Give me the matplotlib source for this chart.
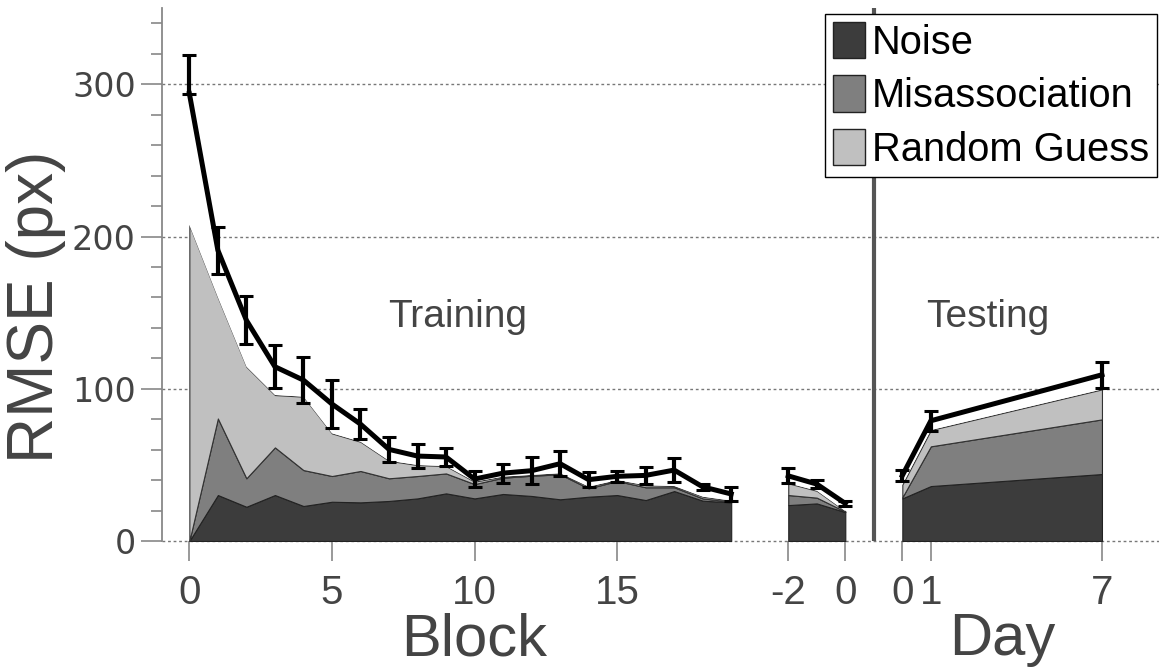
import numpy as np
import matplotlib
matplotlib.use('Agg')
import matplotlib.pyplot as plt
import matplotlib.transforms as mtransforms
from matplotlib.patches import Patch

plt.rcParams['font.family'] = ['Liberation Sans', 'DejaVu Sans']

# training blocks 0..19
block_x = np.arange(20)
block_total = [294, 191, 145, 114.5, 105.7, 90, 76.8, 60.2, 55.8, 55.2,
               40.7, 44.6, 46.2, 50.8, 40.3, 42.5, 43.1, 46.6, 35.6, 30.9]
block_err_lo = [0.5, 15.3, 15.8, 14, 15, 16, 10, 8, 8, 6,
                5, 6.3, 8.7, 8.4, 5, 3.6, 5.7, 8, 2, 4.9]
block_err_hi = [25, 15.3, 15.8, 14, 15, 16, 10, 8, 8, 6,
                5, 6.3, 8.7, 8.4, 5, 3.6, 5.7, 8, 2, 4.9]
block_noise = [0, 30.2, 22.5, 30.2, 23, 25.8, 25.4, 26.3, 28, 31.3,
               28, 30.9, 29.6, 27.4, 29.1, 30.2, 26.9, 32.8, 26.5, 25.4]
block_misassoc = [0, 80.5, 41.2, 61.5, 46.6, 42.7, 46, 41.2, 42.7, 44.4,
                  37.4, 41.6, 42.9, 43.8, 34.6, 39.4, 35.3, 35.3, 28, 25.8]
block_guess = [207.5, 160, 114.5, 95.9, 94.8, 70.7, 65.2, 52.7, 49.9, 49.2,
               39, 42.3, 43.4, 44.5, 35.7, 40, 36.6, 36.1, 29.1, 26.5]

# pre-test days -2..0 (axis positions 21..23)
pre_x = [21, 22, 23]
pre_total = [42.8, 37.4, 24.7]
pre_err = [4.9, 2.7, 1.5]
pre_noise = [23.6, 24.7, 19.0]
pre_misassoc = [30.2, 28.5, 19.3]
pre_guess = [37.9, 33.0, 19.6]

# testing days 0, 1, 7 (axis positions 25, 26, 32)
day_x = [25, 26, 32]
day_total = [43, 79, 109.2]
day_err = [3.6, 6.5, 8.5]
day_noise = [28, 36.1, 44]
day_misassoc = [28.7, 62.2, 79.9]
day_guess = [37, 72.9, 99.6]

tick_pos = [0, 5, 10, 15, 21, 23, 25, 26, 32]
tick_labels = ['0', '5', '10', '15', '-2', '0', '0', '1', '7']

c_noise, c_mis, c_guess = '#3c3c3c', '#7f7f7f', '#c0c0c0'
txt = '#444444'

fig = plt.figure(figsize=(11.59, 6.68), dpi=100)
ax = fig.add_axes([0.1400, 0.1901, 0.8600, 0.7976])

segments = [
    (block_x, block_total, [block_err_lo, block_err_hi], block_noise, block_misassoc, block_guess),
    (pre_x, pre_total, pre_err, pre_noise, pre_misassoc, pre_guess),
    (day_x, day_total, day_err, day_noise, day_misassoc, day_guess),
]
for x, tot, err, noise, mis, guess in segments:
    ax.fill_between(x, 0, noise, facecolor=c_noise, edgecolor='#222222', lw=0.8, zorder=2)
    ax.fill_between(x, noise, mis, facecolor=c_mis, edgecolor='#222222', lw=0.8, zorder=2)
    ax.fill_between(x, mis, guess, facecolor=c_guess, edgecolor='#333333', lw=0.8, zorder=2)
    ax.fill_between(x, guess, tot, facecolor='white', lw=0, zorder=2)
    ax.errorbar(x, tot, yerr=err, color='black', lw=3.6, elinewidth=3,
                capsize=4.7, capthick=2.2, zorder=4)

ax.axvline(24, color='#555555', lw=3, zorder=3)

ax.set_xlim(-0.95, 34.0)
ax.set_ylim(0, 350)
ax.set_yticks([0, 100, 200, 300])
ax.set_yticks(np.arange(0, 350, 20), minor=True)
ax.set_xticks(tick_pos)
ax.set_xticklabels(tick_labels, fontsize=29)
ax.set_yticklabels(['0', '100', '200', '300'], family=['DejaVu Sans'], fontsize=24)

ax.set_axisbelow(True)
ax.yaxis.grid(True, which='major', linestyle=(0, (2, 2)), color='#777777', lw=1)
for gl in ax.get_ygridlines():
    gl.set_clip_on(False)

for side in ['top', 'right', 'bottom']:
    ax.spines[side].set_visible(False)
ax.spines['left'].set_color('#888888')
ax.spines['left'].set_linewidth(1.3)

ax.tick_params(axis='x', direction='out', length=14.5, width=1.2, color='#888888',
               labelcolor=txt, pad=9)
ax.tick_params(axis='y', which='major', direction='out', length=15, width=1.2,
               color='#888888', labelcolor=txt, pad=4)
ax.tick_params(axis='y', which='minor', direction='out', length=8, width=1.2,
               color='#888888')

ax.text(9.4, 147, 'Training', ha='center', va='center', fontsize=28, color=txt)
ax.text(28, 147, 'Testing', ha='center', va='center', fontsize=28, color=txt)

trans = mtransforms.blended_transform_factory(ax.transData, fig.transFigure)
ax.text(10, 1 - 655 / 668, 'Block', transform=trans, ha='center', va='baseline',
        fontsize=43, color=txt)
ax.text(28.5, 1 - 655 / 668, 'Day', transform=trans, ha='center', va='baseline',
        fontsize=43, color=txt)
fig.text(0.031, 1 - 307 / 668, 'RMSE (px)', rotation=90, ha='center', va='center',
         fontsize=46, color=txt)

handles = [Patch(facecolor=c_noise, edgecolor='#222222', label='Noise'),
           Patch(facecolor=c_mis, edgecolor='#222222', label='Misassociation'),
           Patch(facecolor=c_guess, edgecolor='#222222', label='Random Guess')]
leg = ax.legend(handles=handles, loc='upper right', bbox_to_anchor=(1157 / 1159, 1 - 14 / 668),
                bbox_transform=fig.transFigure, fontsize=28.7, handlelength=0.8,
                handleheight=1.03, handletextpad=0.18, labelspacing=0.34,
                borderpad=0.2, borderaxespad=0, fancybox=False, framealpha=1)
leg.get_frame().set_edgecolor('black')
leg.get_frame().set_linewidth(1)
leg.set_zorder(10)

fig.savefig('out.png', dpi=100)
